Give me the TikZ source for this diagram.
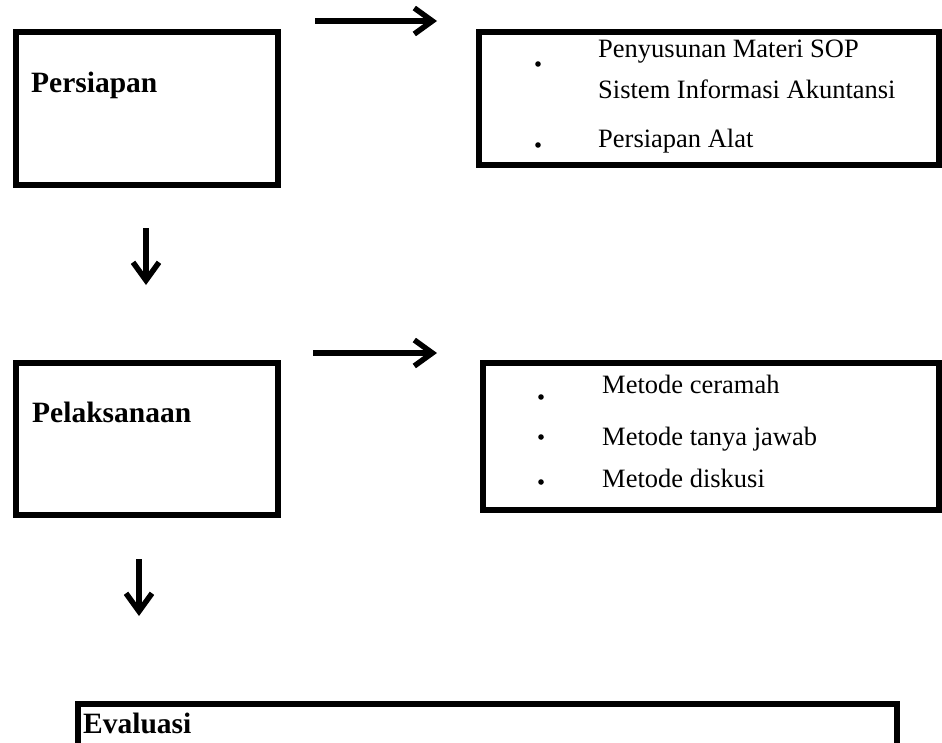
\documentclass[tikz,border=0pt]{standalone}
\usepackage{fontspec}
\setmainfont{Liberation Serif}
\usetikzlibrary{arrows.meta}

\begin{document}
\begin{tikzpicture}[x=1pt,y=-1pt,>={Straight Barb[length=18pt,width=26pt,line width=5.5pt]},
  box/.style={draw,line width=6pt,inner sep=0pt},
  head/.style={anchor=base west,inner sep=0pt,font=\fontsize{29.5}{34}\selectfont\bfseries},
  item/.style={anchor=base west,inner sep=0pt,font=\fontsize{26.5}{31}\selectfont},
  flow/.style={->,line width=5.5pt}]
\clip (0,0) rectangle (942,742);
% the stages on the left, the bottom one runs past the edge
\node[box,minimum width=262pt,minimum height=153pt] (persiapan) at (147,108.5) {};
\node[box,minimum width=262pt,minimum height=152pt] (pelaksanaan) at (147,439) {};
\node[box,minimum width=819pt,minimum height=96pt] (evaluasi) at (487.5,752) {};
% what each stage holds
\node[box,minimum width=460pt,minimum height=133pt] (isiPersiapan) at (709,98.5) {};
\node[box,minimum width=456pt,minimum height=147pt] (isiPelaksanaan) at (711,436.5) {};
% titles
\node[head] (tPersiapan) at (31,92) {Persiapan};
\node[head] (tPelaksanaan) at (32,422) {Pelaksanaan};
\node[head] (tEvaluasi) at (83,733) {Evaluasi};
% items
\node[item] (materi) at (598,57) {Penyusunan Materi SOP};
\node[item] (sia) at (598,98) {Sistem Informasi Akuntansi};
\node[item] (alat) at (598,147) {Persiapan Alat};
\node[item] (ceramah) at (602,393) {Metode ceramah};
\node[item] (tanya) at (602,445) {Metode tanya jawab};
\node[item] (diskusi) at (602,487) {Metode diskusi};
\foreach \y in {64,145} \fill (538,\y) circle (2.8pt);
\foreach \y in {397,437,482} \fill (541,\y) circle (2.8pt);
% arrows
\coordinate (kanan1a) at (315,21); \coordinate (kanan1b) at (437,21);
\coordinate (kanan2a) at (313,353); \coordinate (kanan2b) at (437,353);
\coordinate (bawah1a) at (146,228); \coordinate (bawah1b) at (146,285);
\coordinate (bawah2a) at (139,559); \coordinate (bawah2b) at (139,616);
\draw[flow] (kanan1a) -- (kanan1b);
\draw[flow] (kanan2a) -- (kanan2b);
\draw[flow] (bawah1a) -- (bawah1b);
\draw[flow] (bawah2a) -- (bawah2b);
\end{tikzpicture}
\end{document}
